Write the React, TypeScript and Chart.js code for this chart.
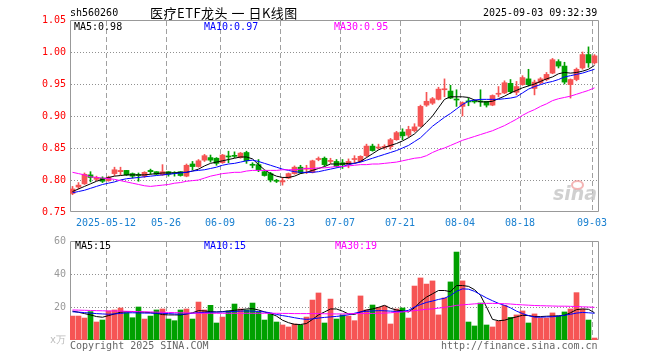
import React, { useEffect, useRef } from "react";
import { Chart, registerables } from "chart.js";

Chart.register(...registerables);

// ---------- DATA ----------
const dates = [
  "04-29","04-30","05-06","05-07","05-08","05-09","05-12","05-13","05-14","05-15",
  "05-16","05-19","05-20","05-21","05-22","05-23","05-26","05-27","05-28","05-29",
  "05-30","06-03","06-04","06-05","06-06","06-09","06-10","06-11","06-12","06-13",
  "06-16","06-17","06-18","06-19","06-20","06-23","06-24","06-25","06-26","06-27",
  "06-30","07-01","07-02","07-03","07-04","07-07","07-08","07-09","07-10","07-11",
  "07-14","07-15","07-16","07-17","07-18","07-21","07-22","07-23","07-24","07-25",
  "07-28","07-29","07-30","07-31","08-01","08-04","08-05","08-06","08-07","08-08",
  "08-11","08-12","08-13","08-14","08-15","08-18","08-19","08-20","08-21","08-22",
  "08-25","08-26","08-27","08-28","08-29","09-01","09-02","09-03",
];

const open = [
  0.779,0.789,0.794,0.808,0.801,0.803,0.799,0.810,0.813,0.815,
  0.810,0.808,0.806,0.815,0.813,0.808,0.813,0.811,0.813,0.806,
  0.825,0.821,0.831,0.835,0.834,0.827,0.837,0.838,0.835,0.843,
  0.824,0.824,0.813,0.810,0.799,0.797,0.803,0.810,0.820,0.817,
  0.812,0.832,0.834,0.829,0.829,0.827,0.824,0.832,0.829,0.838,
  0.853,0.850,0.851,0.852,0.863,0.875,0.870,0.877,0.884,0.917,
  0.920,0.926,0.941,0.939,0.926,0.915,0.923,0.923,0.923,0.923,
  0.917,0.934,0.936,0.951,0.937,0.949,0.958,0.943,0.952,0.957,
  0.967,0.985,0.978,0.949,0.957,0.975,0.996,0.983,
];
const close = [
  0.786,0.792,0.809,0.804,0.804,0.798,0.804,0.816,0.815,0.808,
  0.806,0.807,0.812,0.813,0.809,0.813,0.809,0.810,0.807,0.823,
  0.821,0.830,0.838,0.831,0.826,0.839,0.836,0.837,0.842,0.830,
  0.823,0.816,0.807,0.800,0.798,0.799,0.810,0.820,0.811,0.818,
  0.830,0.833,0.824,0.830,0.821,0.824,0.829,0.833,0.837,0.853,
  0.846,0.851,0.852,0.863,0.874,0.869,0.879,0.883,0.915,0.923,
  0.927,0.942,0.942,0.928,0.925,0.921,0.922,0.922,0.922,0.917,
  0.932,0.935,0.952,0.938,0.946,0.960,0.949,0.953,0.958,0.965,
  0.988,0.978,0.953,0.957,0.973,0.996,0.983,0.994,
];
const high = [
  0.790,0.796,0.811,0.813,0.806,0.805,0.806,0.820,0.820,0.815,
  0.811,0.811,0.813,0.817,0.813,0.824,0.813,0.813,0.813,0.825,
  0.829,0.832,0.840,0.839,0.835,0.840,0.845,0.844,0.843,0.845,
  0.827,0.832,0.814,0.812,0.801,0.804,0.811,0.822,0.823,0.823,
  0.831,0.836,0.836,0.834,0.832,0.832,0.833,0.838,0.838,0.856,
  0.856,0.856,0.855,0.865,0.876,0.880,0.884,0.888,0.917,0.937,
  0.929,0.945,0.958,0.948,0.941,0.922,0.928,0.925,0.941,0.923,
  0.933,0.946,0.955,0.957,0.954,0.963,0.973,0.956,0.960,0.968,
  0.990,0.988,0.984,0.958,0.975,1.000,1.008,0.996,
];
const low = [
  0.777,0.786,0.793,0.797,0.799,0.796,0.798,0.807,0.808,0.807,
  0.803,0.798,0.804,0.809,0.808,0.807,0.806,0.806,0.806,0.805,
  0.816,0.820,0.829,0.828,0.823,0.826,0.827,0.835,0.834,0.826,
  0.819,0.813,0.806,0.797,0.796,0.792,0.802,0.809,0.810,0.810,
  0.811,0.830,0.822,0.826,0.820,0.818,0.819,0.827,0.828,0.836,
  0.845,0.848,0.848,0.848,0.862,0.863,0.867,0.875,0.883,0.915,
  0.918,0.925,0.930,0.927,0.915,0.900,0.916,0.920,0.915,0.914,
  0.916,0.930,0.935,0.935,0.933,0.948,0.947,0.933,0.950,0.955,
  0.966,0.975,0.950,0.928,0.955,0.973,0.976,0.981,
];

const ma5 = [
  0.782,0.786,0.790,0.794,0.798,0.801,0.804,0.806,0.807,0.808,
  0.808,0.808,0.808,0.809,0.810,0.811,0.811,0.811,0.812,0.812,
  0.814,0.817,0.822,0.826,0.828,0.830,0.832,0.834,0.836,0.836,
  0.833,0.824,0.816,0.810,0.806,0.804,0.804,0.806,0.810,0.812,
  0.815,0.818,0.821,0.825,0.825,0.825,0.826,0.826,0.829,0.835,
  0.841,0.847,0.851,0.854,0.857,0.861,0.866,0.872,0.881,0.890,
  0.900,0.913,0.926,0.930,0.930,0.930,0.929,0.925,0.922,0.922,
  0.923,0.927,0.931,0.936,0.940,0.944,0.947,0.950,0.954,0.958,
  0.961,0.966,0.968,0.967,0.968,0.970,0.973,0.979,
];
const ma10 = [
  0.780,0.782,0.784,0.787,0.790,0.793,0.795,0.797,0.800,0.802,
  0.803,0.804,0.805,0.806,0.807,0.808,0.809,0.810,0.811,0.812,
  0.814,0.815,0.816,0.818,0.820,0.823,0.825,0.826,0.828,0.830,
  0.831,0.829,0.826,0.823,0.820,0.817,0.815,0.813,0.812,0.812,
  0.812,0.813,0.815,0.817,0.819,0.821,0.824,0.826,0.828,0.831,
  0.834,0.837,0.840,0.843,0.846,0.850,0.854,0.860,0.866,0.875,
  0.884,0.891,0.898,0.904,0.911,0.918,0.923,0.925,0.926,0.926,
  0.926,0.926,0.927,0.928,0.930,0.936,0.942,0.946,0.949,0.952,
  0.954,0.957,0.961,0.963,0.965,0.967,0.970,0.973,
];
const ma30 = [
  0.812,0.810,0.808,0.805,0.804,0.803,0.802,0.801,0.799,0.797,
  0.795,0.793,0.791,0.790,0.791,0.792,0.793,0.795,0.796,0.798,
  0.799,0.800,0.803,0.806,0.808,0.810,0.811,0.812,0.812,0.814,
  0.815,0.815,0.815,0.815,0.815,0.816,0.816,0.816,0.817,0.818,
  0.818,0.819,0.819,0.820,0.821,0.821,0.822,0.823,0.824,0.824,
  0.825,0.825,0.826,0.827,0.828,0.830,0.832,0.834,0.835,0.838,
  0.843,0.847,0.850,0.854,0.858,0.862,0.865,0.868,0.871,0.874,
  0.877,0.881,0.885,0.890,0.895,0.901,0.906,0.910,0.915,0.919,
  0.924,0.927,0.929,0.931,0.934,0.937,0.940,0.944,
];

// volume in 万 (10k)
const volume = [
  14.5,14.5,13.3,17.2,10.9,12.1,17.6,18.2,19.4,16.6,
  13.5,20.0,12.7,14.5,18.2,18.8,12.7,11.7,18.2,18.8,
  12.7,23.0,18.2,21.0,10.3,13.9,17.6,21.8,18.8,18.2,
  22.4,17.0,12.1,15.8,10.9,9.1,7.9,9.7,9.1,13.9,
  24.2,28.5,10.3,24.8,12.7,15.2,14.5,11.7,26.7,18.2,
  21.2,19.8,20.6,9.7,18.8,19.4,13.3,32.7,37.6,33.9,
  35.8,15.2,25.5,35.2,53.3,35.8,10.9,8.5,22.4,9.1,
  7.9,11.3,21.0,13.7,15.2,17.6,10.3,15.8,13.3,13.3,
  16.4,14.5,17.0,18.8,28.7,18.8,12.1,1.2,
];
const volMa5 = [
  17.5,16.8,16.0,15.2,14.2,13.8,14.8,15.8,16.8,17.2,
  17.2,17.0,16.8,16.6,16.2,15.4,15.2,15.2,15.2,15.8,
  16.5,17.8,17.6,17.2,17.0,17.2,17.6,18.0,18.4,18.8,
  19.0,18.2,17.0,16.0,14.5,12.0,10.5,9.5,9.4,10.0,
  12.5,15.2,17.0,18.8,18.8,17.5,15.8,15.5,17.0,18.2,
  18.8,19.8,21.0,19.2,18.2,17.6,17.0,19.5,23.2,26.0,
  28.0,30.0,30.0,29.3,33.0,33.0,32.5,30.5,27.0,20.0,
  12.5,11.7,12.0,13.1,14.0,15.0,14.8,14.2,14.2,14.4,
  14.5,14.6,15.0,16.5,18.4,18.8,18.6,16.5,
];
const volMa10 = [
  17.1,16.9,16.6,16.3,16.0,15.8,15.6,15.8,16.1,16.5,
  16.5,16.4,16.3,16.3,16.2,16.2,16.0,15.8,15.6,15.8,
  16.2,16.6,16.7,16.8,16.9,17.0,17.1,17.3,17.5,17.6,
  17.5,17.3,17.0,16.5,15.5,14.8,14.2,13.5,12.9,12.5,
  12.8,13.3,13.7,14.0,14.3,14.7,15.3,16.2,17.0,17.4,
  17.6,17.8,17.7,17.5,17.3,17.3,18.0,20.0,21.5,22.8,
  23.6,24.6,25.3,27.0,29.5,31.0,30.8,29.5,27.5,25.5,
  23.8,22.2,21.0,19.5,17.5,16.0,14.8,13.9,13.8,14.0,
  14.1,14.5,15.0,15.6,16.3,16.7,16.5,16.2,
];
const volMa30 = [
  18.2,18.1,18.0,17.9,17.8,17.7,17.6,17.6,17.5,17.4,
  17.3,17.2,17.1,17.0,16.9,16.8,16.7,16.6,16.5,16.4,
  16.3,16.2,16.2,16.2,16.2,16.2,16.2,16.2,16.2,16.2,
  16.2,16.2,16.2,16.2,16.2,16.1,16.1,16.0,16.0,16.0,
  16.0,16.0,15.9,15.8,15.8,15.8,15.9,16.0,16.0,16.1,
  16.1,16.2,16.3,16.5,16.8,17.0,17.4,17.8,18.2,18.6,
  18.9,19.3,19.8,20.3,21.0,21.3,21.6,21.9,22.1,22.2,
  22.2,22.1,22.0,21.8,21.5,21.3,21.1,20.9,20.8,20.7,
  20.6,20.5,20.5,20.4,20.3,20.1,20.0,19.8,
];

const xTickLabels = ["2025-05-12","05-26","06-09","06-23","07-07","07-21","08-04","08-18","09-03"];
const priceTicks = [0.75, 0.8, 0.85, 0.9, 0.95, 1.0, 1.05];
const volTicks = [0, 20, 40, 60];

// ---------- STYLE ----------
const MONO = '"DejaVu Sans Mono", "Liberation Mono", monospace';
const RED = "#f65454";
const GREEN = "#00a000";
const GRID_V = "#a0a0a0";
const GRID_H = "#909090";
const FRAME = "#999999";
const X_MIN = -5 / 12;
const X_MAX = 88 - 5 / 12;
const TICK_SHIFT = -5 / 12;

// dashed vertical / dotted horizontal grid at the scales' own ticks, plus the frame
const gridLines = {
  id: "kgrid",
  beforeDatasetsDraw(chart: any) {
    const ctx = chart.ctx;
    const area = chart.chartArea;
    const xs = chart.scales.x;
    const ys = chart.scales.y;
    ctx.save();
    ctx.lineWidth = 1;
    ctx.strokeStyle = GRID_V;
    ctx.setLineDash([5, 3]);
    for (const t of xs.ticks) {
      const px = Math.round(xs.getPixelForValue(t.value)) + 0.5;
      ctx.beginPath();
      ctx.moveTo(px, area.top + 1);
      ctx.lineTo(px, area.bottom - 1);
      ctx.stroke();
    }
    ctx.strokeStyle = GRID_H;
    ctx.setLineDash([1, 2]);
    for (const t of ys.ticks) {
      const py = Math.round(ys.getPixelForValue(t.value)) + 0.5;
      if (py <= area.top + 2 || py >= area.bottom - 2) continue;
      ctx.beginPath();
      ctx.moveTo(area.left + 1, py);
      ctx.lineTo(area.right, py);
      ctx.stroke();
    }
    ctx.setLineDash([]);
    ctx.strokeStyle = FRAME;
    ctx.beginPath();
    ctx.moveTo(area.left + 0.5, area.top + 0.5);
    ctx.lineTo(area.right + 0.5, area.top + 0.5);
    ctx.lineTo(area.right + 0.5, area.bottom - 0.5);
    ctx.lineTo(area.left + 0.5, area.bottom - 0.5);
    ctx.closePath();
    ctx.stroke();
    ctx.restore();
  },
};

function xScale(showLabels: boolean) {
  return {
    type: "linear",
    min: X_MIN,
    max: X_MAX,
    offset: false,
    grid: { display: false, offset: false, drawTicks: false },
    border: { display: false },
    afterBuildTicks: (s: any) => {
      s.ticks = xTickLabels.map((lab) => ({ value: dates.indexOf(lab.slice(-5)) + TICK_SHIFT }));
    },
    ticks: {
      display: showLabels,
      autoSkip: false,
      maxRotation: 0,
      minRotation: 0,
      color: "#1a80d0",
      font: { family: MONO, size: 10 },
      padding: 5,
      callback: (_v: any, i: number) => xTickLabels[i],
    },
    afterFit: (s: any) => {
      s.height = showLabels ? 20 : 0;
    },
  };
}

function lineDs(values: number[], color: string) {
  return {
    type: "line",
    data: values.map((v, i) => ({ x: i, y: v })),
    borderColor: color,
    borderWidth: 1,
    pointRadius: 0,
    tension: 0,
    fill: false,
    order: 0,
  };
}

const txt = (extra: any): any => ({
  position: "absolute",
  font: `10px ${MONO}`,
  lineHeight: "10px",
  whiteSpace: "pre",
  ...extra,
});

export default function App() {
  const priceRef = useRef<HTMLCanvasElement>(null);
  const volRef = useRef<HTMLCanvasElement>(null);

  useEffect(() => {
    const colors = close.map((c, i) => (c >= open[i] ? RED : GREEN));
    const common = {
      animation: false,
      responsive: false,
      devicePixelRatio: 1,
      plugins: { legend: { display: false }, tooltip: { enabled: false } },
    };

    const price = new Chart(priceRef.current as HTMLCanvasElement, {
      type: "bar",
      data: {
        datasets: [
          {
            type: "bar",
            data: dates.map((_d, i) => ({ x: i, y: [low[i], high[i]] })),
            backgroundColor: colors,
            barThickness: 1,
            grouped: false,
            order: 3,
          },
          {
            type: "bar",
            data: dates.map((_d, i) => ({ x: i, y: [open[i], close[i]] })),
            backgroundColor: colors,
            barThickness: 5,
            minBarLength: 1,
            grouped: false,
            order: 2,
          },
          lineDs(ma30, "#ff00ff"),
          lineDs(ma10, "#0000ff"),
          lineDs(ma5, "#000000"),
        ] as any,
      },
      options: {
        ...common,
        layout: { padding: { left: 0, right: 62, top: 20, bottom: 0 } },
        scales: {
          x: xScale(true),
          y: {
            type: "linear",
            min: 0.75,
            max: 1.05,
            afterBuildTicks: (s: any) => {
              s.ticks = priceTicks.map((v) => ({ value: v }));
            },
            ticks: {
              color: "#ff0000",
              font: { family: MONO, size: 10 },
              padding: 4,
              callback: (v: any) => Number(v).toFixed(2),
            },
            grid: { display: false, drawTicks: false },
            border: { display: false },
            afterFit: (s: any) => {
              s.width = 70;
            },
          },
        },
      } as any,
      plugins: [gridLines],
    });

    const vol = new Chart(volRef.current as HTMLCanvasElement, {
      type: "bar",
      data: {
        datasets: [
          {
            type: "bar",
            data: dates.map((_d, i) => ({ x: i, y: volume[i] })),
            backgroundColor: colors,
            barThickness: 5,
            grouped: false,
            order: 2,
          },
          lineDs(volMa30, "#ff00ff"),
          lineDs(volMa10, "#0000ff"),
          lineDs(volMa5, "#000000"),
        ] as any,
      },
      options: {
        ...common,
        layout: { padding: { left: 0, right: 62, top: 11, bottom: 20 } },
        scales: {
          x: xScale(false),
          y: {
            type: "linear",
            min: 0,
            max: 60,
            afterBuildTicks: (s: any) => {
              s.ticks = volTicks.map((v) => ({ value: v }));
            },
            ticks: {
              color: (ctx: any) => (ctx.tick && ctx.tick.value === 0 ? "#bbbbbb" : "#999999"),
              font: { family: MONO, size: 10 },
              padding: 4,
              callback: (v: any) => (Number(v) === 0 ? "x万" : String(v)),
            },
            grid: { display: false, drawTicks: false },
            border: { display: false },
            afterFit: (s: any) => {
              s.width = 70;
            },
          },
        },
      } as any,
      plugins: [gridLines],
    });

    return () => {
      price.destroy();
      vol.destroy();
    };
  }, []);

  return (
    <div
      style={{
        position: "absolute",
        left: 0,
        top: 0,
        width: 660,
        height: 360,
        background: "#ffffff",
        overflow: "hidden",
      }}
    >
      <canvas ref={priceRef} width={660} height={232} style={{ position: "absolute", left: 0, top: 0 }} />
      <canvas ref={volRef} width={660} height={130} style={{ position: "absolute", left: 0, top: 230 }} />

      <div style={txt({ left: 70, top: 8, color: "#000" })}>sh560260</div>
      <div
        style={{
          position: "absolute",
          left: 150,
          top: 5,
          font: '13px "Noto Sans CJK SC", sans-serif',
          lineHeight: "15px",
          letterSpacing: "0.5px",
          whiteSpace: "pre",
          color: "#000",
        }}
      >
        医疗ETF龙头 一 日K线图
      </div>
      <div style={txt({ left: 483, top: 8, color: "#000" })}>2025-09-03 09:32:39</div>

      <div style={txt({ left: 74, top: 22, color: "#000" })}>MA5:0.98</div>
      <div style={txt({ left: 204, top: 22, color: "#0000ff" })}>MA10:0.97</div>
      <div style={txt({ left: 334, top: 22, color: "#ff00ff" })}>MA30:0.95</div>

      <div style={txt({ left: 75, top: 241, color: "#000" })}>MA5:15</div>
      <div style={txt({ left: 204, top: 241, color: "#0000ff" })}>MA10:15</div>
      <div style={txt({ left: 335, top: 241, color: "#ff00ff" })}>MA30:19</div>

      <div style={txt({ left: 70, top: 341, color: "#666" })}>Copyright 2025 SINA.COM</div>
      <div style={txt({ left: 441, top: 341, color: "#666" })}>http://finance.sina.com.cn</div>

      <div
        style={{
          position: "absolute",
          left: 553,
          top: 183,
          font: 'italic bold 19px "DejaVu Sans", sans-serif',
          lineHeight: "20px",
          color: "rgba(200,200,200,0.85)",
        }}
      >
        sina
      </div>
      <div
        style={{
          position: "absolute",
          left: 571,
          top: 180,
          width: 9,
          height: 6,
          borderRadius: "50%",
          border: "2px solid rgba(240,150,150,0.7)",
        }}
      />
    </div>
  );
}
